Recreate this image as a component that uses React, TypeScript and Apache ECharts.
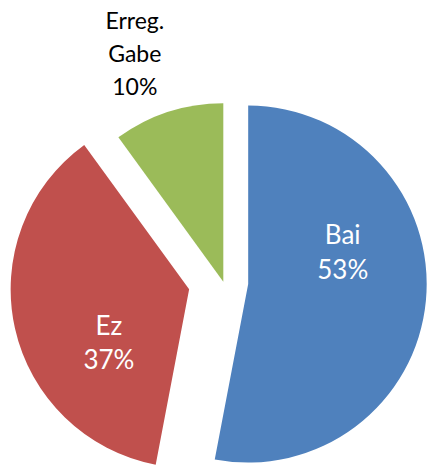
import React, { useEffect, useRef } from "react";
import * as echarts from "echarts";

const categories = ["Bai", "Ez", "Erreg. Gabe"];
const values = [53, 37, 10];
const colors = ["#4F81BD", "#C0504D", "#9BBB59"];
const explode = [25, 35, 0];
const labelOffsets = [
  [22, -33],
  [9, 37],
  [-60, -141],
];
const labelColors = ["#ffffff", "#ffffff", "#000000"];
const fontSizes = [26, 26, 23];
const lineHeights = [35, 34, 33];

export default function App() {
  const ref = useRef<HTMLDivElement>(null);
  useEffect(() => {
    if (!ref.current) return;
    const chart = echarts.init(ref.current, null, { renderer: "svg" });
    const series = categories.map((_, k) => {
      const lbl = {
        show: true,
        position: "inside",
        offset: labelOffsets[k],
        color: labelColors[k],
        fontFamily: "Lato",
        fontSize: fontSizes[k],
        lineHeight: lineHeights[k],
        align: "center",
        formatter: (p: any) =>
          p.name.replace(" ", "\n") + "\n" + Math.round(p.percent) + "%",
      };
      return {
        type: "pie",
        center: [223.3, 281.7],
        radius: 178.5,
        startAngle: 90,
        clockwise: true,
        selectedMode: "multiple",
        selectedOffset: explode[k],
        silent: true,
        animation: false,
        labelLine: { show: false },
        emphasis: { disabled: true },
        data: categories.map((name, i) => ({
          name,
          value: values[i],
          selected: i === k && explode[k] > 0,
          itemStyle: {
            color: i === k ? colors[i] : "rgba(0,0,0,0)",
            borderWidth: 0,
          },
          label: i === k ? lbl : { show: false },
          select: {
            itemStyle: {
              color: i === k ? colors[i] : "rgba(0,0,0,0)",
              borderWidth: 0,
            },
            label: i === k ? lbl : { show: false },
          },
        })),
      };
    });
    chart.setOption({
      animation: false,
      backgroundColor: "#ffffff",
      series,
    });
    return () => chart.dispose();
  }, []);
  return (
    <div
      ref={ref}
      style={{ position: "fixed", left: 0, top: 0, width: 429, height: 465 }}
    />
  );
}
